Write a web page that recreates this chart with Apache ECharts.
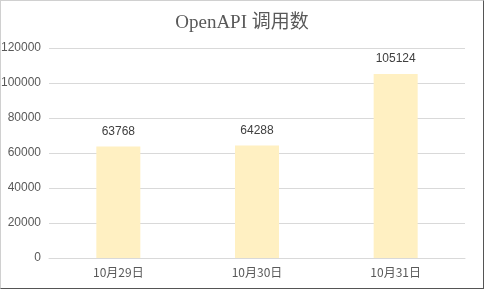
<!DOCTYPE html>
<html><head><meta charset="utf-8">
<script src="https://cdn.jsdelivr.net/npm/echarts@6/dist/echarts.min.js"></script>
<style>
html,body{margin:0;padding:0;background:#fff;}
#c{position:absolute;left:0;top:0;width:482px;height:287px;border:1px solid #d0d0d0;border-right-color:#555;border-bottom-color:#555;}
</style></head>
<body><div id="c"></div>
<script>
const title = 'OpenAPI 调用数';
const categories = ['10月29日', '10月30日', '10月31日'];
const values = [63768, 64288, 105124];
const yMax = 120000, yStep = 20000;

const chart = echarts.init(document.getElementById('c'), null, {renderer: 'canvas'});
chart.setOption({
  animation: false,
  title: {
    text: title, left: 'center', top: 8,
    textStyle: {fontFamily: '"Liberation Serif", "Noto Sans CJK SC", serif', fontSize: 19, fontWeight: 'normal', color: '#595959'}
  },
  grid: {left: 48, right: 18, top: 47, bottom: 30, containLabel: false, outerBoundsMode: 'none'},
  xAxis: {
    type: 'category', data: categories,
    axisLine: {lineStyle: {color: '#d9d9d9'}},
    axisTick: {show: false},
    axisLabel: {color: '#595959', fontSize: 12, margin: 8, fontFamily: '"Noto Sans CJK SC", sans-serif'}
  },
  yAxis: {
    type: 'value', min: 0, max: yMax, interval: yStep,
    axisLine: {show: false}, axisTick: {show: false},
    splitLine: {lineStyle: {color: '#d9d9d9'}},
    axisLabel: {color: '#595959', fontSize: 12, margin: 8, fontFamily: '"Liberation Sans", sans-serif',
      formatter: v => String(v)}
  },
  series: [{
    type: 'bar', data: values, barWidth: 44,
    itemStyle: {color: '#FFF0C2'},
    label: {show: true, position: 'top', distance: 9, color: '#404040', fontSize: 12, fontFamily: '"Liberation Sans", sans-serif'}
  }]
});
</script></body></html>
